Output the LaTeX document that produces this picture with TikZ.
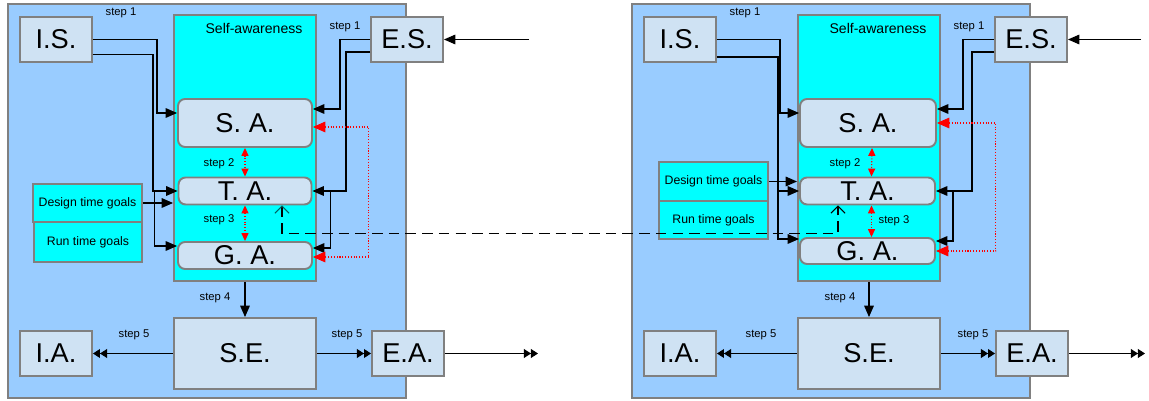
\documentclass[tikz,border=0pt]{standalone}
\usepackage{fontspec}
\setmainfont{Liberation Sans}
\usetikzlibrary{arrows.meta}

\definecolor{panelblue}{HTML}{99CCFF}
\definecolor{awarecyan}{HTML}{00FFFF}
\definecolor{boxfill}{HTML}{CFE2F3}
\definecolor{edgegray}{HTML}{808080}
\definecolor{linkteal}{HTML}{006060}

\begin{document}
\begin{tikzpicture}[x=0.02cm, y=-0.02cm,
    panel/.style={draw=edgegray, line width=1.2pt, fill=panelblue, inner sep=0pt},
    awareness/.style={draw=edgegray, line width=1.1pt, fill=awarecyan, inner sep=0pt},
    block/.style={draw=edgegray, line width=1.1pt, fill=boxfill, inner sep=0pt, font=\fontsize{15.5}{18}\selectfont},
    level/.style={block, rounded corners=4pt},
    goals/.style={draw=edgegray, line width=1.1pt, fill=awarecyan, inner sep=0pt, font=\fontsize{7}{8}\selectfont},
    steplabel/.style={inner sep=0pt, font=\fontsize{6.4}{7}\selectfont},
    title/.style={inner sep=0pt, font=\fontsize{8}{9}\selectfont},
    flow/.style={line width=0.65pt, -{Triangle[length=6.5pt,width=5.5pt]}},
    emit/.style={line width=0.65pt, -{Triangle[length=4pt,width=5pt]Triangle[length=4pt,width=5pt]}},
    feedback/.style={red, densely dotted, line width=0.6pt, {Triangle[length=7pt,width=6pt]}-{Triangle[length=7pt,width=6pt]}},
    exchange/.style={red, densely dotted, line width=0.6pt, {Triangle[length=4.5pt,width=4pt]}-{Triangle[length=4.5pt,width=4pt]}},
    link/.style={dash pattern=on 6pt off 3.5pt, line width=0.6pt}
]
    \useasboundingbox (0,0) rectangle (1149,401);

    % Left system
    \node[panel, minimum width=7.96cm, minimum height=7.88cm] (panelL) at (207,201) {};
    \node[awareness, minimum width=2.84cm, minimum height=5.32cm] (awareL) at (245,148) {};
    \node[title] (titleL) at (254,28) {Self-awareness};

    \node[block, minimum width=1.44cm, minimum height=0.9cm] (isL) at (56,39.5) {I.S.};
    \node[block, minimum width=1.44cm, minimum height=0.9cm] (esL) at (407,39.5) {E.S.};
    \node[level, minimum width=2.68cm, minimum height=0.96cm] (saL) at (245,123) {S. A.};
    \node[level, minimum width=2.66cm, minimum height=0.54cm] (taL) at (245,191) {T. A.};
    \node[level, minimum width=2.68cm, minimum height=0.54cm] (gaL) at (245,255.5) {G. A.};
    \node[goals, minimum width=2.18cm, minimum height=0.76cm] (dtgL) at (87.5,203) {Design time goals};
    \node[goals, minimum width=2.16cm, minimum height=0.8cm] (rtgL) at (88,242) {Run time goals};
    \node[block, minimum width=2.84cm, minimum height=1.42cm] (seL) at (245,353.5) {S.E.};
    \node[block, minimum width=1.44cm, minimum height=0.9cm] (iaL) at (56,353.5) {I.A.};
    \node[block, minimum width=1.44cm, minimum height=0.9cm] (eaL) at (408,353.5) {E.A.};
    \coordinate (inL) at (529,39.5);
    \coordinate (outL) at (538,353.5);

    % Step labels
    \node[steplabel] (st1aL) at (121,13) {step 1};
    \node[steplabel] (st1bL) at (345,27) {step 1};
    \node[steplabel] (st2L) at (219,164) {step 2};
    \node[steplabel] (st3L) at (219,220) {step 3};
    \node[steplabel] (st4L) at (215,298) {step 4};
    \node[steplabel] (st5aL) at (134,335) {step 5};
    \node[steplabel] (st5bL) at (347,335) {step 5};

    % Sensing
    \draw[flow] (inL) -- (esL.east);
    \draw[flow] (isL.east) -- ++(64,0) |- ([yshift=0.2cm]saL.west);
    \draw[flow] ([yshift=-0.3cm]isL.east) -- ++(60,0) |- (taL.west);
    \draw[flow] ([xshift=-0.46cm]taL.west) |- ([yshift=0.19cm]gaL.west);
    \draw[flow] (dtgL.east) -- (dtgL.east -| awareL.west);
    \draw[flow] (esL.west) -- ++(-30,0) |- ([yshift=0.28cm]saL.east);
    \draw[flow] ([yshift=-0.25cm]esL.west) -- ++(-24,0) |- (taL.east);
    \draw[flow] ([xshift=0.36cm]taL.east) |- ([yshift=0.15cm]gaL.east);

    % Awareness levels
    \draw[exchange] (saL.south) -- (taL.north);
    \draw[exchange] (taL.south) -- (gaL.north);
    \draw[feedback] ([yshift=-0.08cm]saL.east) -- ++(56,0) |- ([yshift=-0.03cm]gaL.east);

    % Acting
    \draw[flow] (awareL.south) -- (seL.north);
    \draw[emit] (seL.west) -- (iaL.east);
    \draw[emit] (seL.east) -- (eaL.west);
    \draw[emit] (eaL.east) -- (outL);

    % Right system
    \node[panel, minimum width=7.96cm, minimum height=7.88cm] (panelR) at (831,201) {};
    \node[awareness, minimum width=2.84cm, minimum height=5.32cm] (awareR) at (869,148) {};
    \node[title] (titleR) at (878,28) {Self-awareness};

    \node[block, minimum width=1.44cm, minimum height=0.9cm] (isR) at (680,39.5) {I.S.};
    \node[block, minimum width=1.44cm, minimum height=0.9cm] (esR) at (1031,39.5) {E.S.};
    \node[level, minimum width=2.72cm, minimum height=0.96cm] (saR) at (868,123) {S. A.};
    \node[level, minimum width=2.7cm, minimum height=0.54cm] (taR) at (867.5,191) {T. A.};
    \node[level, minimum width=2.7cm, minimum height=0.52cm] (gaR) at (867.5,251) {G. A.};
    \node[goals, minimum width=2.18cm, minimum height=0.78cm] (dtgR) at (713.5,181.5) {Design time goals};
    \node[goals, minimum width=2.18cm, minimum height=0.76cm] (rtgR) at (713.5,220) {Run time goals};
    \node[block, minimum width=2.84cm, minimum height=1.42cm] (seR) at (869,353.5) {S.E.};
    \node[block, minimum width=1.44cm, minimum height=0.9cm] (iaR) at (680,353.5) {I.A.};
    \node[block, minimum width=1.44cm, minimum height=0.9cm] (eaR) at (1032,353.5) {E.A.};
    \coordinate (inR) at (1141,39.5);
    \coordinate (outR) at (1145,353.5);

    % Step labels
    \node[steplabel] (st1aR) at (745,13) {step 1};
    \node[steplabel] (st1bR) at (969,27) {step 1};
    \node[steplabel] (st2R) at (845,164) {step 2};
    \node[steplabel] (st3R) at (894,221) {step 3};
    \node[steplabel] (st4R) at (840,298) {step 4};
    \node[steplabel] (st5aR) at (761,335) {step 5};
    \node[steplabel] (st5bR) at (973,335) {step 5};

    % Sensing
    \draw[flow] (inR) -- (esR.east);
    \draw[flow] (isR.east) -- ++(63,0) |- ([yshift=0.2cm]saR.west);
    \draw[flow] ([yshift=-0.35cm]isR.east) -- ++(61,0) |- (taR.west);
    \draw[flow] ([xshift=-0.42cm]taR.west) |- ([yshift=0.24cm]gaR.west);
    \draw[flow] (dtgR.east) -- (dtgR.east -| awareR.west);
    \draw[flow] (esR.west) -- ++(-31,0) |- ([yshift=0.28cm]saR.east);
    \draw[flow] ([yshift=-0.25cm]esR.west) -- ++(-22,0) |- (taR.east);
    \draw[flow] ([xshift=0.34cm]taR.east) |- ([yshift=0.2cm]gaR.east);

    % Awareness levels
    \draw[exchange] ([xshift=0.08cm]saR.south) -- ([xshift=0.08cm]taR.north);
    \draw[exchange] ([xshift=0.08cm]taR.south) -- ([xshift=0.08cm]gaR.north);
    \draw[feedback] (saR.east) -- ++(59,0) |- (gaR.east);

    % Acting
    \draw[flow] (awareR.south) -- (seR.north);
    \draw[emit] (seR.west) -- (iaR.east);
    \draw[emit] (seR.east) -- (eaR.west);
    \draw[emit] (eaR.east) -- (outR);

    % Link between the two time-awareness levels
    \draw[link, {Straight Barb[length=4pt,width=8pt,color=linkteal]}-{Straight Barb[length=4pt,width=8pt]}]
        ([xshift=0.74cm]taL.south) -- ++(0,28) -| ([xshift=-0.59cm]taR.south);
\end{tikzpicture}
\end{document}
